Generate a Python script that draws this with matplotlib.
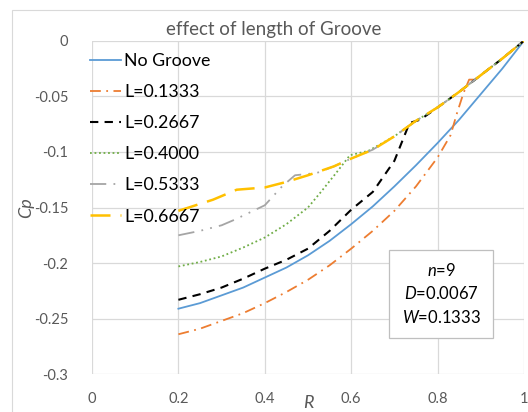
import matplotlib.pyplot as plt
from matplotlib.patches import Rectangle

plt.rcParams['font.family'] = ['Lato', 'DejaVu Sans']
plt.rcParams['mathtext.fontset'] = 'custom'
plt.rcParams['mathtext.it'] = 'Lato:italic'
plt.rcParams['mathtext.rm'] = 'Lato'

# values
r_no = [0.2, 0.25, 0.3, 0.35, 0.4, 0.45, 0.5, 0.55, 0.6, 0.65, 0.7, 0.75, 0.8, 0.85, 0.9, 0.95, 1.0]
cp_no = [-0.241, -0.236, -0.229, -0.222, -0.213, -0.204, -0.193, -0.180, -0.165, -0.149, -0.131,
         -0.112, -0.092, -0.071, -0.048, -0.025, 0.0]

r_l1 = [0.2, 0.25, 0.3, 0.35, 0.4, 0.45, 0.5, 0.55, 0.6, 0.65, 0.7, 0.75, 0.8, 0.83, 0.845,
        0.86, 0.873, 0.89, 0.9, 0.95, 1.0]
cp_l1 = [-0.264, -0.259, -0.252, -0.245, -0.236, -0.226, -0.215, -0.202, -0.187, -0.171, -0.153,
         -0.131, -0.105, -0.085, -0.065, -0.047, -0.035, -0.035, -0.031, -0.016, 0.0]

r_l2 = [0.2, 0.25, 0.3, 0.35, 0.4, 0.45, 0.5, 0.55, 0.6, 0.65, 0.7, 0.735, 0.76, 0.8, 0.85,
        0.9, 0.95, 1.0]
cp_l2 = [-0.233, -0.228, -0.222, -0.214, -0.205, -0.197, -0.187, -0.171, -0.152, -0.136, -0.108,
         -0.074, -0.071, -0.060, -0.046, -0.031, -0.016, 0.0]

r_l3 = [0.2, 0.25, 0.3, 0.35, 0.4, 0.45, 0.5, 0.53, 0.565, 0.597, 0.64, 0.7, 0.75, 0.8, 0.85,
        0.9, 0.95, 1.0]
cp_l3 = [-0.203, -0.199, -0.194, -0.186, -0.177, -0.165, -0.150, -0.136, -0.119, -0.103, -0.099,
         -0.086, -0.072, -0.060, -0.046, -0.031, -0.016, 0.0]

r_l4 = [0.2, 0.25, 0.3, 0.33, 0.4, 0.44, 0.47, 0.52, 0.56, 0.6, 0.65, 0.7, 0.75, 0.8, 0.85,
        0.9, 0.95, 1.0]
cp_l4 = [-0.175, -0.171, -0.166, -0.161, -0.148, -0.131, -0.121, -0.119, -0.113, -0.106, -0.098,
         -0.086, -0.072, -0.060, -0.046, -0.031, -0.016, 0.0]

r_l5 = [0.2, 0.28, 0.335, 0.4, 0.45, 0.5, 0.56, 0.6, 0.65, 0.7, 0.75, 0.8, 0.85, 0.9, 0.95, 1.0]
cp_l5 = [-0.153, -0.143, -0.134, -0.132, -0.127, -0.121, -0.113, -0.106, -0.098, -0.086, -0.072,
         -0.060, -0.046, -0.031, -0.016, 0.0]

labels = ['No Groove', 'L=0.1333', 'L=0.2667', 'L=0.4000', 'L=0.5333', 'L=0.6667']

fig = plt.figure(figsize=(5.28, 4.12), dpi=100)
ax = fig.add_axes([92 / 528, 1 - 374.3 / 412, 432 / 528, 333.6 / 412])

# outer chart frame
fig.patches.append(Rectangle((12 / 528, -0.1), 1.2, 1 - 10 / 412 + 0.1, transform=fig.transFigure,
                             fill=False, edgecolor='#d9d9d9', lw=0.8))

ax.plot(r_no, cp_no, color='#5b9bd5', lw=1.3, ls='-', label=labels[0])
ax.plot(r_l1, cp_l1, color='#ed7d31', lw=1.3, ls=(0, (6, 3, 1, 3)), label=labels[1])
ax.plot(r_l2, cp_l2, color='black', lw=1.5, ls=(0, (4, 3)), label=labels[2])
ax.plot(r_l3, cp_l3, color='#70ad47', lw=1.3, ls=(0, (1, 1.5)), label=labels[3])
ax.plot(r_l4, cp_l4, color='#a5a5a5', lw=1.3, ls=(0, (9, 4, 1, 4, 1, 4)), label=labels[4])
ax.plot(r_l5, cp_l5, color='#ffc000', lw=1.8, ls=(0, (8, 4)), label=labels[5])

ax.set_xlim(0, 1)
ax.set_ylim(-0.3, 0)
ax.set_xticks([0, 0.2, 0.4, 0.6, 0.8, 1.0])
ax.set_xticklabels(['0', '0.2', '0.4', '0.6', '0.8', '1'])
ax.set_yticks([0, -0.05, -0.1, -0.15, -0.2, -0.25, -0.3])
ax.set_yticklabels(['0', '-0.05', '-0.1', '-0.15', '-0.2', '-0.25', '-0.3'])
ax.grid(True, color='#d9d9d9', lw=0.9)
ax.set_axisbelow(True)
for s in ax.spines.values():
    s.set_visible(False)
ax.tick_params(length=0, labelsize=10.5, labelcolor='#595959')
ax.tick_params(axis='y', pad=17)
ax.tick_params(axis='x', pad=13)

fig.text(274 / 528, 1 - 29 / 412, 'effect of length of Groove', fontsize=13.5, color='#595959',
         ha='center', va='center')
ax.set_xlabel('R', fontsize=13, style='italic', color='#595959', labelpad=-8)
ax.set_ylabel('Cp', fontsize=13, style='italic', color='#595959', labelpad=0)

leg = ax.legend(loc='upper left', bbox_to_anchor=(-0.03, 0.995), frameon=False, fontsize=12.8,
                handlelength=1.75, handletextpad=0.2, labelspacing=0.85, borderaxespad=0.2)

ax.text(0.808, 0.241, '$n$=9\n$D$=0.0067\n$W$=0.1333', transform=ax.transAxes, ha='center',
        va='center', fontsize=12, linespacing=1.45, color='black',
        bbox=dict(boxstyle='square,pad=0.75', fc='white', ec='#bfbfbf', lw=0.9))

fig.savefig('out.png', dpi=100)
